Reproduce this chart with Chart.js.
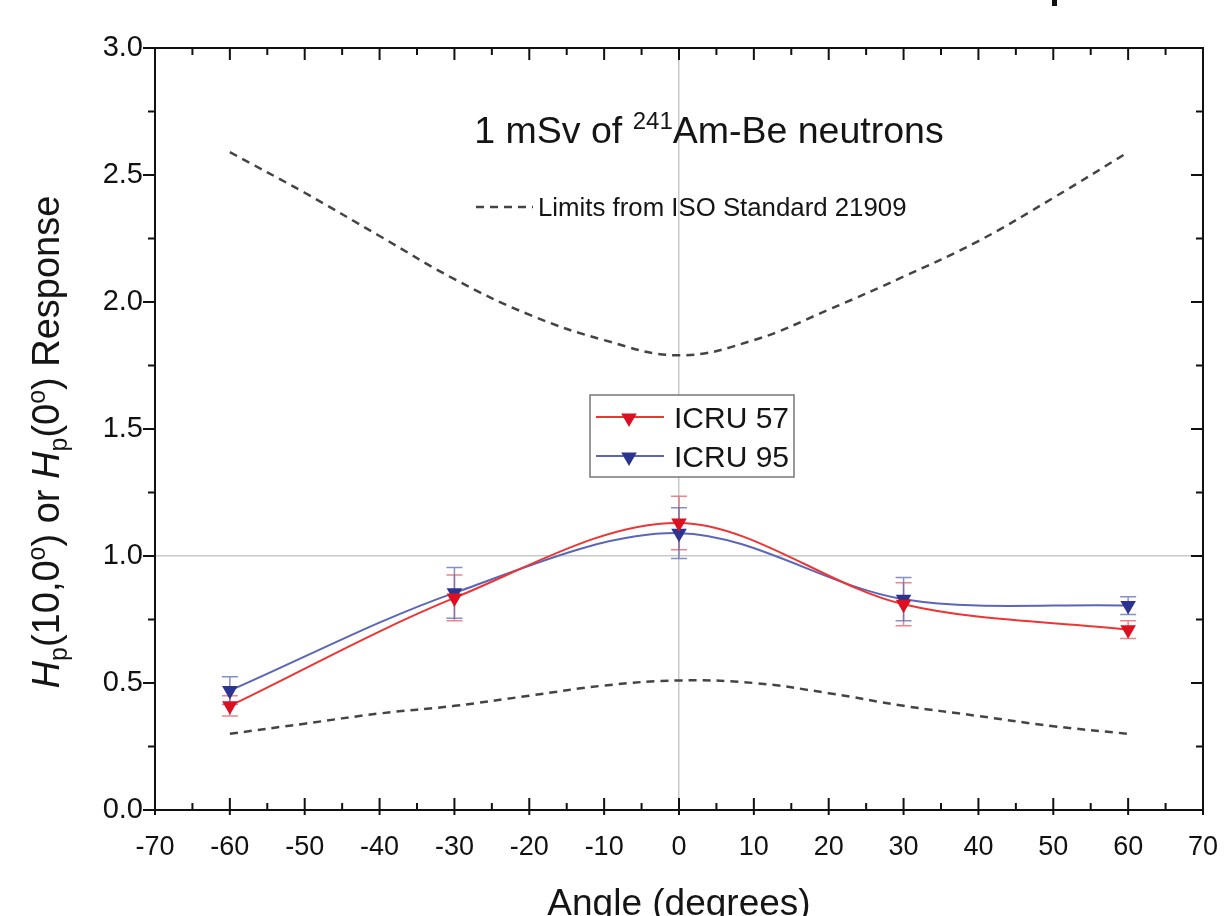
<!DOCTYPE html>
<html><head><meta charset="utf-8">
<script src="https://cdn.jsdelivr.net/npm/chart.js@4/dist/chart.umd.min.js"></script>
<style>html,body{margin:0;padding:0;background:#fff;} #wrap{width:1230px;height:916px;position:relative;}</style>
</head><body><div id="wrap"><canvas id="c" width="1230" height="916"></canvas></div>
<script>
// ---- data ----
const angles = [-60, -30, 0, 30, 60];
const icru57 = [0.41, 0.835, 1.13, 0.81, 0.71];
const icru57Err = [0.04, 0.09, 0.105, 0.085, 0.035];
const icru95 = [0.47, 0.855, 1.09, 0.83, 0.805];
const icru95Err = [0.055, 0.10, 0.10, 0.085, 0.035];
const isoAngles = [-60, -50, -40, -30, -20, -10, 0, 10, 20, 30, 40, 50, 60];
const isoUpper = [2.59, 2.43, 2.26, 2.09, 1.95, 1.85, 1.79, 1.85, 1.97, 2.10, 2.24, 2.41, 2.59];
const isoLower = [0.30, 0.34, 0.38, 0.41, 0.45, 0.49, 0.51, 0.50, 0.46, 0.41, 0.37, 0.33, 0.30];
const xRange = [-70, 70], xStep = 10;
const yRange = [0, 3], yStep = 0.5;
const seriesLabels = ['ICRU 57', 'ICRU 95'];
const isoLabel = 'Limits from ISO Standard 21909';
const xTitle = 'Angle (degrees)';

const FONT = '"Liberation Sans", Arial, sans-serif';
const RED_LINE = '#ee3535', RED_MARK = '#dc1020', RED_ERR = 'rgba(235,90,100,0.75)';
const BLUE_LINE = '#5b66b8', BLUE_MARK = '#2b3590', BLUE_ERR = 'rgba(95,105,185,0.75)';

const pts = (xs, ys) => xs.map((x, i) => ({x: x, y: ys[i]}));

function drawTri(ctx, x, y, r, color) {
  ctx.save();
  ctx.fillStyle = color;
  ctx.beginPath();
  ctx.moveTo(x - r * 0.866, y - r * 0.5);
  ctx.lineTo(x + r * 0.866, y - r * 0.5);
  ctx.lineTo(x, y + r);
  ctx.closePath();
  ctx.fill();
  ctx.restore();
}

function drawRich(ctx, parts, x, y, size, align) {
  const fontFor = p => {
    const s = (p.sub || p.sup) ? Math.round(size * 0.65) : size;
    return (p.italic ? 'italic ' : '') + s + 'px ' + FONT;
  };
  let total = 0;
  parts.forEach(p => { ctx.font = fontFor(p); p.w = ctx.measureText(p.t).width; total += p.w; });
  let cx = align === 'center' ? x - total / 2 : x;
  parts.forEach(p => {
    ctx.font = fontFor(p);
    let dy = 0;
    if (p.sub) dy = size * 0.22;
    if (p.sup) dy = -size * 0.38;
    ctx.fillText(p.t, cx, y + dy);
    cx += p.w;
  });
}

const errorBars = {
  id: 'errorBars',
  beforeDatasetsDraw(chart) {
    const ctx = chart.ctx, ys = chart.scales.y;
    const sets = [[0, icru57, icru57Err, RED_ERR], [1, icru95, icru95Err, BLUE_ERR]];
    ctx.save();
    ctx.lineWidth = 1.5;
    sets.forEach(([di, vals, errs, col]) => {
      const meta = chart.getDatasetMeta(di);
      ctx.strokeStyle = col;
      meta.data.forEach((el, j) => {
        const x = el.x;
        const yt = ys.getPixelForValue(vals[j] + errs[j]);
        const yb = ys.getPixelForValue(vals[j] - errs[j]);
        ctx.beginPath();
        ctx.moveTo(x, yt); ctx.lineTo(x, yb);
        ctx.moveTo(x - 8, yt); ctx.lineTo(x + 8, yt);
        ctx.moveTo(x - 8, yb); ctx.lineTo(x + 8, yb);
        ctx.stroke();
      });
    });
    ctx.restore();
  }
};

const frameAndText = {
  id: 'frameAndText',
  afterDraw(chart) {
    const ctx = chart.ctx, a = chart.chartArea;
    const xs = chart.scales.x, ys = chart.scales.y;
    ctx.save();
    ctx.strokeStyle = '#111';
    ctx.lineWidth = 2;
    ctx.strokeRect(a.left, a.top, a.right - a.left, a.bottom - a.top);
    ctx.beginPath();
    for (let v = xRange[0]; v <= xRange[1] + 1e-9; v += xStep / 2) {
      const major = Math.abs(v / xStep - Math.round(v / xStep)) < 1e-6;
      const px = xs.getPixelForValue(v);
      const L = major ? 12 : 7;
      ctx.moveTo(px, a.bottom + (major ? 5 : 0)); ctx.lineTo(px, a.bottom - L);
      ctx.moveTo(px, a.top); ctx.lineTo(px, a.top + L);
    }
    for (let v = yRange[0]; v <= yRange[1] + 1e-9; v += yStep / 2) {
      const major = Math.abs(v / yStep - Math.round(v / yStep)) < 1e-6;
      const py = ys.getPixelForValue(v);
      const L = major ? 12 : 7;
      ctx.moveTo(a.left - L, py); ctx.lineTo(a.left, py);
      ctx.moveTo(a.right, py); ctx.lineTo(a.right - L, py);
    }
    ctx.stroke();

    ctx.fillStyle = '#151515';
    ctx.textBaseline = 'alphabetic';
    drawRich(ctx, [{t: '1 mSv of '}, {t: '241', sup: true}, {t: 'Am-Be neutrons'}], 709, 143, 37.5, 'center');

    ctx.save();
    ctx.strokeStyle = '#444';
    ctx.lineWidth = 2.5;
    ctx.setLineDash([8, 6]);
    ctx.beginPath(); ctx.moveTo(476, 207); ctx.lineTo(533, 207); ctx.stroke();
    ctx.restore();
    ctx.font = '25.8px ' + FONT;
    ctx.textAlign = 'left';
    ctx.fillText(isoLabel, 538, 216);

    ctx.save();
    ctx.fillStyle = '#fff';
    ctx.fillRect(590, 395, 204, 82);
    ctx.strokeStyle = '#777';
    ctx.lineWidth = 1.5;
    ctx.strokeRect(590, 395, 204, 82);
    ctx.restore();
    const leg = [[RED_LINE, RED_MARK, 417], [BLUE_LINE, BLUE_MARK, 456]];
    leg.forEach(([lc, mc, y], i) => {
      ctx.save();
      ctx.strokeStyle = lc; ctx.lineWidth = 2;
      ctx.beginPath(); ctx.moveTo(596, y); ctx.lineTo(664, y); ctx.stroke();
      ctx.restore();
      drawTri(ctx, 629, y + 1, 9, mc);
      ctx.fillStyle = '#151515';
      ctx.font = '30px ' + FONT;
      ctx.fillText(seriesLabels[i], 674, y + 11);
    });

    ctx.save();
    ctx.translate(59, 442);
    ctx.rotate(-Math.PI / 2);
    ctx.fillStyle = '#151515';
    drawRich(ctx, [
      {t: 'H', italic: true}, {t: 'p', sub: true}, {t: '(10,0'}, {t: 'o', sup: true}, {t: ') or '},
      {t: 'H', italic: true}, {t: 'p', sub: true}, {t: '(0'}, {t: 'o', sup: true}, {t: ') Response'}
    ], 0, 0, 38, 'center');
    ctx.restore();

    ctx.fillStyle = '#111';
    ctx.fillRect(1052, 0, 5, 6);
    ctx.restore();
  }
};

const gridColor = (target) => (ctx) => (ctx.tick && Math.abs(ctx.tick.value - target) < 1e-9) ? '#c9c9c9' : 'rgba(0,0,0,0)';

new Chart(document.getElementById('c'), {
  type: 'line',
  data: {
    datasets: [
      {label: seriesLabels[0], data: pts(angles, icru57), borderColor: RED_LINE, backgroundColor: RED_MARK,
       borderWidth: 2, pointStyle: 'triangle', pointRotation: 180, pointRadius: 9, pointBorderWidth: 0,
       pointBackgroundColor: RED_MARK, tension: 0.33, fill: false},
      {label: seriesLabels[1], data: pts(angles, icru95), borderColor: BLUE_LINE, backgroundColor: BLUE_MARK,
       borderWidth: 2, pointStyle: 'triangle', pointRotation: 180, pointRadius: 9, pointBorderWidth: 0,
       pointBackgroundColor: BLUE_MARK, tension: 0.33, fill: false},
      {label: 'ISO upper', data: pts(isoAngles, isoUpper), borderColor: '#444', borderWidth: 2.5,
       borderDash: [8, 6], pointRadius: 0, tension: 0.4, fill: false},
      {label: 'ISO lower', data: pts(isoAngles, isoLower), borderColor: '#444', borderWidth: 2.5,
       borderDash: [8, 6], pointRadius: 0, tension: 0.4, fill: false}
    ]
  },
  options: {
    responsive: false,
    animation: false,
    devicePixelRatio: 1,
    layout: {padding: {left: 0, right: 27, top: 48, bottom: 0}},
    plugins: {legend: {display: false}, tooltip: {enabled: false}, title: {display: false}},
    scales: {
      x: {
        type: 'linear', min: xRange[0], max: xRange[1],
        afterFit: s => { s.height = 106; s.paddingLeft = 0; s.paddingRight = 0; },
        ticks: {stepSize: xStep, color: '#111', font: {family: FONT, size: 27}, padding: 21, maxRotation: 0,
                callback: v => String(v)},
        grid: {color: gridColor(0), lineWidth: 1.5, drawTicks: false},
        border: {display: false},
        title: {display: true, text: xTitle, color: '#151515', font: {family: FONT, size: 37, lineHeight: 1},
                padding: {top: 0, bottom: -7}}
      },
      y: {
        type: 'linear', min: yRange[0], max: yRange[1],
        afterFit: s => { s.width = 155; s.paddingTop = 0; s.paddingBottom = 0; },
        ticks: {stepSize: yStep, color: '#111', font: {family: FONT, size: 29}, padding: 12,
                callback: v => v.toFixed(1)},
        grid: {color: gridColor(1), lineWidth: 1.5, drawTicks: false},
        border: {display: false}
      }
    }
  },
  plugins: [errorBars, frameAndText]
});
</script></body></html>
